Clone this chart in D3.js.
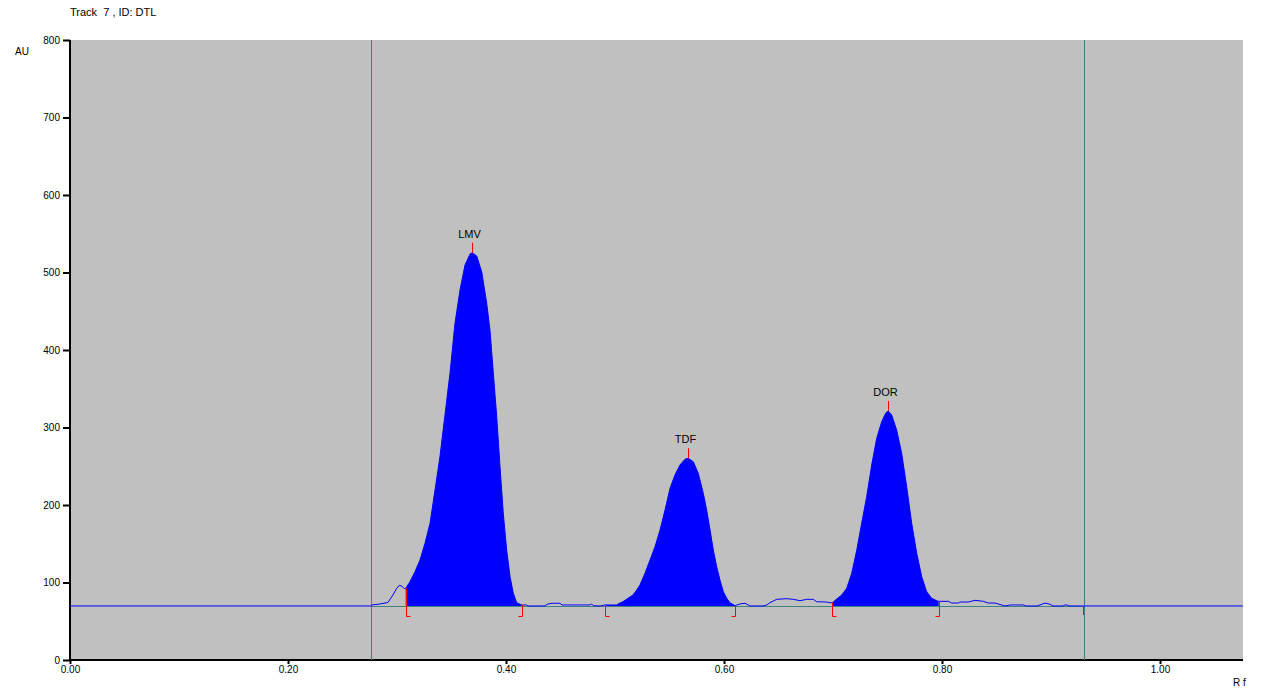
<!DOCTYPE html>
<html>
<head>
<meta charset="utf-8">
<script src="https://cdn.jsdelivr.net/npm/d3@7"></script>
<style>
    body { margin: 0; background: #fff; }
    text { font-family: "Liberation Sans", Arial, sans-serif; font-size: 10px; fill: #000; }
    .big { font-size: 11px; }
</style>
</head>
<body>
<script>
// scan of track 7
var rfValues = [0, 0.2760, 0.2768, 0.2826, 0.2917, 0.2963, 0.2997, 0.3021, 0.3043, 0.3067, 0.3080,
    0.3119, 0.3165, 0.3211, 0.3257, 0.3303, 0.3349, 0.3394, 0.3440, 0.3486, 0.3532, 0.3578, 0.3624,
    0.3670, 0.3691, 0.3731, 0.3777, 0.3823, 0.3853, 0.3884, 0.3915, 0.3945, 0.3975, 0.4006, 0.4037,
    0.4067, 0.4098, 0.4144, 0.4190, 0.4202, 0.4358, 0.4376, 0.4422, 0.4495, 0.4514, 0.4771, 0.4786,
    0.4801, 0.4862, 0.4908, 0.5018, 0.5028, 0.5073, 0.5119, 0.5165, 0.5199, 0.5229, 0.5275, 0.5321,
    0.5367, 0.5413, 0.5459, 0.5505, 0.5550, 0.5596, 0.5642, 0.5672, 0.5718, 0.5764, 0.5810, 0.5841,
    0.5872, 0.5902, 0.5933, 0.5963, 0.5994, 0.6025, 0.6055, 0.6101, 0.6147, 0.6193, 0.6223, 0.6239,
    0.6358, 0.6392, 0.6422, 0.6483, 0.6575, 0.6636, 0.6697, 0.6759, 0.6819, 0.6850, 0.6942, 0.6972,
    0.6994, 0.7034, 0.7080, 0.7126, 0.7172, 0.7218, 0.7263, 0.7309, 0.7355, 0.7401, 0.7447, 0.7486,
    0.7507, 0.7538, 0.7584, 0.7630, 0.7676, 0.7722, 0.7768, 0.7814, 0.7859, 0.7905, 0.7951, 0.7969,
    0.8058, 0.8089, 0.8150, 0.8165, 0.8241, 0.8303, 0.8379, 0.8425, 0.8486, 0.8548, 0.8578, 0.8624,
    0.8746, 0.8771, 0.8872, 0.8899, 0.8945, 0.8991, 0.9018, 0.9110, 0.9128, 0.9147, 0.9165, 0.9300,
    1.0760];
var auValues = [69.7, 69.7, 71.0, 71.9, 74.2, 83.9, 92.5, 96.4, 95.5, 92.0, 92.5,
    101.0, 113.9, 129.0, 150.6, 176.4, 219.4, 262.3, 316.1, 369.9, 434.5, 477.4, 509.7,
    523.9, 525.5, 521.3, 501.0, 460.3, 425.8, 369.9, 313.9, 249.4, 189.3, 141.9, 107.5,
    86.1, 73.9, 71.0, 71.0, 69.7, 69.7, 71.9, 73.2, 73.2, 71.0, 71.0, 72.3,
    70.1, 69.7, 71.0, 71.0, 72.3, 75.2, 79.6, 83.9, 90.3, 96.8, 111.9, 129.0,
    146.2, 167.7, 193.5, 221.5, 238.7, 251.6, 259.0, 260.3, 255.9, 240.9, 215.1, 193.5,
    167.7, 141.9, 120.4, 103.2, 88.1, 79.6, 73.9, 70.1, 72.3, 73.2, 71.0, 69.7,
    69.7, 71.0, 73.9, 78.3, 79.1, 78.3, 76.5, 78.3, 78.3, 75.2, 74.8, 73.9,
    73.9, 78.7, 83.9, 92.5, 111.9, 141.9, 176.4, 210.7, 251.6, 286.1, 307.5, 319.1,
    321.3, 316.1, 296.8, 266.7, 223.6, 176.4, 137.7, 107.5, 88.1, 79.6, 76.5, 75.7,
    75.7, 73.5, 73.5, 74.8, 74.8, 77.0, 75.7, 73.5, 73.5, 71.0, 69.7, 71.0,
    71.0, 69.7, 69.7, 71.0, 73.5, 71.9, 69.7, 69.7, 71.0, 71.0, 69.7, 69.7,
    69.7];

var peakNames = ["LMV", "TDF", "DOR"];
var peakRf = [0.3691, 0.5672, 0.7507];
var peakStart = [0.3080, 0.4908, 0.6994];
var peakEnd = [0.4144, 0.6101, 0.7969];

var baseline = 69.7;
var trackStart = 0.2760, trackEnd = 0.9300;
var yTicks = [0, 100, 200, 300, 400, 500, 600, 700, 800];
var xTicks = [0, 0.2, 0.4, 0.6, 0.8, 1.0];

var W = 1273, H = 698;
var pLeft = 70, pRight = 1243, pTop = 40, pBottom = 660;

var signal = rfValues.map(function (rf, i) { return { rf: rf, au: auValues[i] }; });

var x = d3.scaleLinear().domain([0, (pRight - pLeft) / 1090]).range([pLeft, pRight]);
var y = d3.scaleLinear().domain([0, 800]).range([pBottom, pTop]);

var svg = d3.select("body").append("svg").attr("width", W).attr("height", H);

svg.append("rect")
    .attr("x", pLeft).attr("y", pTop)
    .attr("width", pRight - pLeft).attr("height", pBottom - pTop)
    .attr("fill", "#c0c0c0");

svg.append("text").attr("class", "big").attr("x", 70).attr("y", 16)
    .style("white-space", "pre").text("Track  7 , ID: DTL");
svg.append("text").attr("x", 15).attr("y", 55).text("AU");
svg.append("text").attr("x", 1233).attr("y", 686).text("R f");

// axes
var yAxis = svg.append("g")
    .attr("transform", "translate(" + pLeft + ",0)")
    .call(d3.axisLeft(y).tickValues(yTicks).tickSize(7).tickPadding(3).tickFormat(d3.format("d")));
var xAxis = svg.append("g")
    .attr("transform", "translate(0," + pBottom + ")")
    .call(d3.axisBottom(x).tickValues(xTicks).tickSize(4).tickPadding(2).tickFormat(d3.format(".2f")));
svg.selectAll(".domain").attr("stroke", "#000").attr("stroke-width", 2);
svg.selectAll(".tick line").attr("stroke", "#000").attr("stroke-width", 2);
svg.selectAll(".tick text").attr("font-family", null).attr("font-size", null);
yAxis.select(".domain").attr("d", "M0," + pTop + "V" + (pBottom + 1));
xAxis.select(".domain").attr("d", "M" + pLeft + ",0H" + pRight);

// filled peaks
var area = d3.area()
    .x(function (d) { return x(d.rf); })
    .y0(y(baseline))
    .y1(function (d) { return y(d.au); });

peakNames.forEach(function (name, i) {
    var pts = signal.filter(function (d) { return d.rf >= peakStart[i] && d.rf <= peakEnd[i]; });
    svg.append("path").datum(pts).attr("d", area).attr("fill", "#0000ff");
});

// track limits and baseline
svg.selectAll(".limit")
    .data([trackStart, trackEnd])
    .enter().append("line")
    .attr("x1", function (d) { return Math.round(x(d)) + 0.5; })
    .attr("x2", function (d) { return Math.round(x(d)) + 0.5; })
    .attr("y1", pTop).attr("y2", pBottom)
    .attr("stroke", "#408080").attr("stroke-width", 1);

svg.append("line")
    .attr("x1", x(trackStart)).attr("x2", x(trackEnd))
    .attr("y1", Math.round(y(baseline)) + 0.5).attr("y2", Math.round(y(baseline)) + 0.5)
    .attr("stroke", "#408080");

var line = d3.line()
    .x(function (d) { return x(d.rf); })
    .y(function (d) { return y(d.au); });

svg.append("path").datum(signal.filter(function (d) { return d.rf <= trackStart; }))
    .attr("d", line).attr("fill", "none").attr("stroke", "#0000ff").attr("stroke-width", 1);
svg.append("path").datum(signal.filter(function (d) { return d.rf >= trackEnd; }))
    .attr("d", line).attr("fill", "none").attr("stroke", "#0000ff").attr("stroke-width", 1);
svg.append("path").datum(signal.filter(function (d) { return d.rf >= trackStart && d.rf <= trackEnd; }))
    .attr("d", line).attr("fill", "none").attr("stroke", "#0000ff").attr("stroke-width", 1);

// peak start / end brackets
function auAt(rf) {
    var i = rfValues.indexOf(rf);
    return auValues[i];
}
var brY = Math.round(y(baseline)) + 10.5;
peakNames.forEach(function (name, i) {
    var xs = Math.round(x(peakStart[i])) + 0.5;
    svg.append("path")
        .attr("d", "M" + xs + "," + y(auAt(peakStart[i])) + "V" + brY + "H" + (xs + 4))
        .attr("fill", "none").attr("stroke", "#ff0000");
    var xe = Math.round(x(peakEnd[i])) + 0.5;
    svg.append("path")
        .attr("d", "M" + xe + "," + y(auAt(peakEnd[i])) + "V" + brY + "H" + (xe - 4))
        .attr("fill", "none").attr("stroke", "#ff0000");

    var xp = Math.round(x(peakRf[i])) + 0.5;
    var yp = y(auAt(peakRf[i]));
    svg.append("line")
        .attr("x1", xp).attr("x2", xp)
        .attr("y1", yp - 10).attr("y2", yp)
        .attr("stroke", "#ff0000");
    svg.append("text")
        .attr("class", "big")
        .attr("x", xp - 3).attr("y", yp - 15)
        .attr("text-anchor", "middle")
        .text(name);
});

svg.append("line")
    .attr("x1", Math.round(x(trackEnd)) - 0.5).attr("x2", Math.round(x(trackEnd)) - 0.5)
    .attr("y1", y(baseline)).attr("y2", y(baseline) + 9)
    .attr("stroke", "#ff0000");
</script>
</body>
</html>
